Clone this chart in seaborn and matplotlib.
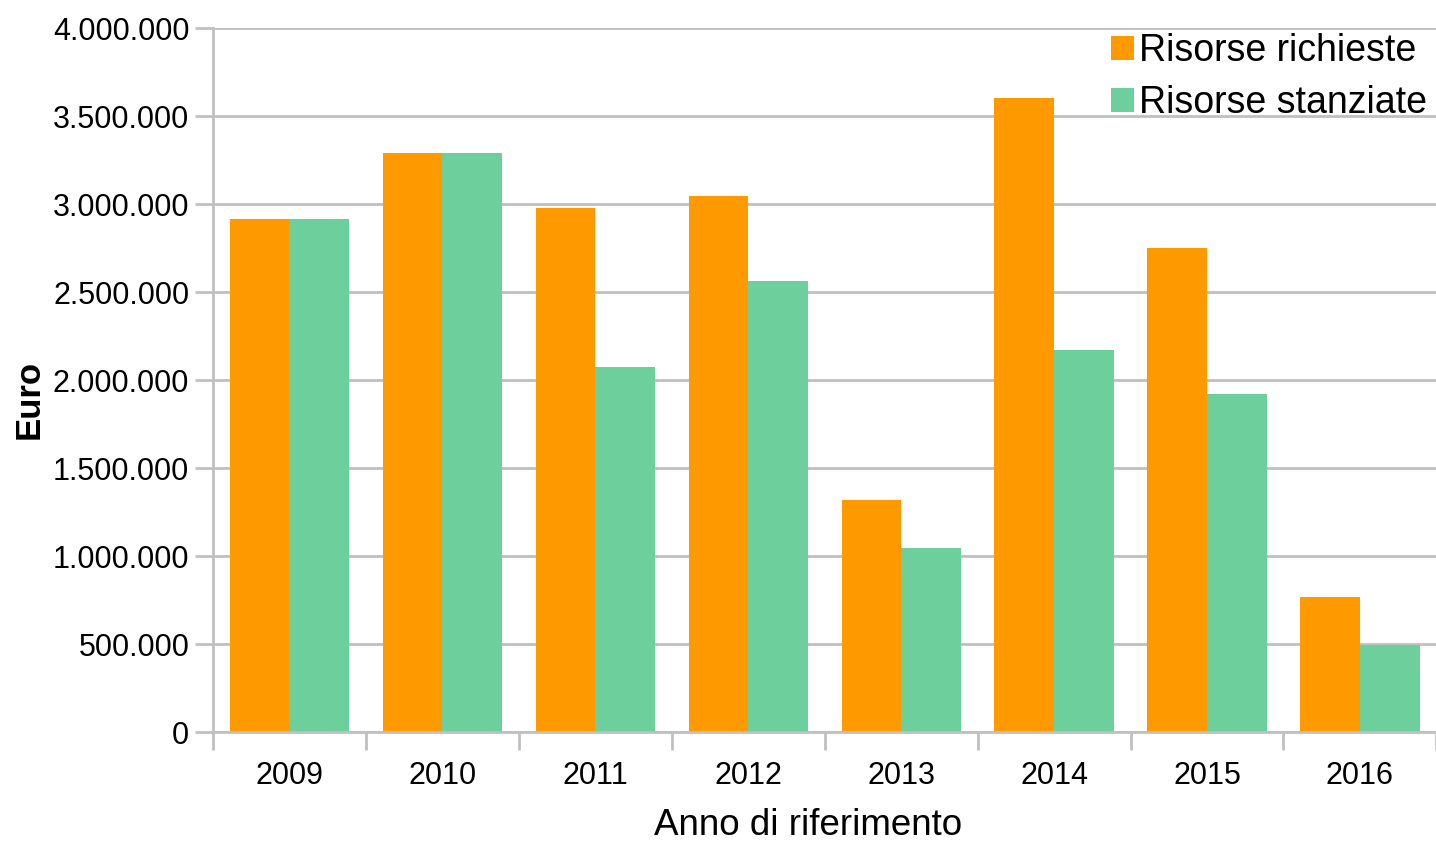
import matplotlib
matplotlib.use("Agg")
import matplotlib.pyplot as plt
import matplotlib.ticker as mticker
import pandas as pd
import seaborn as sns

# dati
anni = ["2009", "2010", "2011", "2012", "2013", "2014", "2015", "2016"]
richieste = [2915000, 3290000, 2977000, 3045000, 1318000, 3602000, 2750000, 767000]
stanziate = [2915000, 3290000, 2074000, 2563000, 1045000, 2170000, 1920000, 494000]
serie = ["Risorse richieste", "Risorse stanziate"]
colori = ["#ff9900", "#6ccf9c"]

df = pd.DataFrame({
    "anno": anni * 2,
    "valore": richieste + stanziate,
    "serie": [serie[0]] * len(anni) + [serie[1]] * len(anni),
})

sns.set_style("white")
plt.rcParams["font.family"] = ["Liberation Sans", "DejaVu Sans"]
plt.rcParams["text.color"] = "black"
plt.rcParams["axes.labelcolor"] = "black"
plt.rcParams["xtick.labelcolor"] = "black"
plt.rcParams["ytick.labelcolor"] = "black"

fig = plt.figure(figsize=(14.36, 8.41), dpi=100)
ax = fig.add_axes([0.1483, 0.1296, 0.852, 0.8371])

sns.barplot(data=df, x="anno", y="valore", hue="serie", palette=colori,
            width=0.78, saturation=1, gap=0, ax=ax, edgecolor="none")

grigio = "#c0c0c0"
ax.set_ylim(0, 4000000)
ax.set_xlim(-0.5, len(anni) - 0.5)
ax.yaxis.set_major_locator(mticker.MultipleLocator(500000))
ax.yaxis.set_major_formatter(mticker.FuncFormatter(lambda v, p: f"{int(v):,}".replace(",", ".")))
ax.grid(axis="y", color=grigio, linewidth=2)
ax.set_axisbelow(True)

for s in ["top", "right"]:
    ax.spines[s].set_visible(False)
for s in ["left", "bottom"]:
    ax.spines[s].set_color(grigio)
    ax.spines[s].set_linewidth(2)

ax.tick_params(axis="y", length=13, width=2, color=grigio, labelsize=22, pad=4, left=True)
ax.tick_params(axis="x", which="major", length=0, labelsize=22, pad=21)
ax.set_xticks([i - 0.5 for i in range(len(anni) + 1)], minor=True)
ax.tick_params(axis="x", which="minor", length=13, width=2, color=grigio, bottom=True)

ax.set_xlabel("Anno di riferimento", fontsize=26.5)
ax.xaxis.set_label_coords(0.486, -0.108)
ax.set_ylabel("Euro", fontsize=25, fontweight="bold")
ax.yaxis.set_label_coords(-0.137, 0.473)

ax.legend(title=None, loc="upper right", bbox_to_anchor=(1.011, 1.025), frameon=False,
          fontsize=27, handlelength=0.6, handleheight=0.6, handletextpad=0.15,
          labelspacing=0.43, borderaxespad=0.2)

fig.savefig("out.png", dpi=100)
